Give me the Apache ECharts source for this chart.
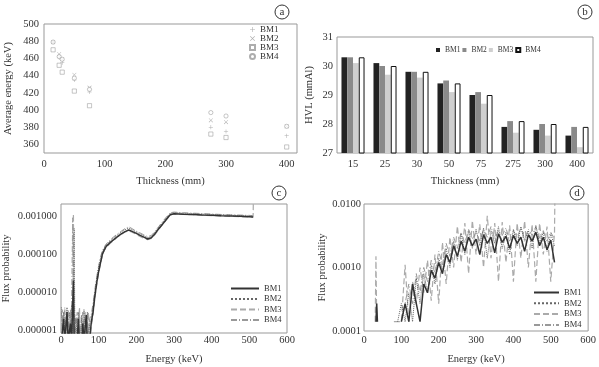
<!DOCTYPE html>
<html>
<head>
<meta charset="utf-8">
<script src="https://cdn.jsdelivr.net/npm/echarts@6/dist/echarts.min.js"></script>
<style>
  html, body { margin: 0; padding: 0; background: #fff; }
  #chart { width: 599px; height: 367px; }
</style>
</head>
<body>
<div id="chart"></div>
<script>
// (a) average energy vs thickness
const thickness = [15, 25, 30, 50, 75, 275, 300, 400]
const avgBM1 = [479, 461, 455, 435, 421, 380, 375, 370]
const avgBM2 = [479, 465, 459, 441, 426, 388, 386, 381]
const avgBM3 = [470, 452, 444, 422, 405, 372, 368, 357]
const avgBM4 = [479, 462, 459, 437, 424, 397, 393, 381]

// (b) HVL per thickness
const hvlCats = ["15", "25", "30", "50", "75", "275", "300", "400"]
const hvlBM1 = [30.3, 30.1, 29.8, 29.4, 29.0, 27.9, 27.8, 27.6]
const hvlBM2 = [30.3, 30.0, 29.8, 29.5, 29.1, 28.1, 28.0, 27.9]
const hvlBM3 = [30.1, 29.7, 29.6, 29.1, 28.7, 27.7, 27.6, 27.2]
const hvlBM4 = [30.3, 30.0, 29.8, 29.4, 29.0, 28.1, 28.0, 27.9]

// (c) flux spectrum
const energyC = [1, 4, 7, 10, 13, 16, 19, 22, 25, 28,
  31, 33, 35, 37,
  40, 43, 46, 49, 52, 55, 58, 61, 64, 67, 70, 73, 76,
  80, 85, 90, 95, 100, 105, 110, 115, 120,
  130, 140, 150, 160, 170, 180, 190, 200, 210, 220, 230, 240, 250, 260, 270, 280, 290, 300,
  325, 350, 375, 400, 425, 450, 475, 500,
  510, 511]
const fluxC_BM1 = [5e-7, 5e-7, 2e-6, 5e-7, 5e-7, 3e-6, 5e-7, 5e-7, 1.5e-6, 5e-7,
  5e-7, 2e-5, 5e-7, 5e-7,
  5e-7, 5e-7, 2e-6, 5e-7, 5e-7, 5e-7, 1.5e-6, 5e-7, 5e-7, 2.5e-6, 5e-7, 5e-7, 5e-7,
  1.5e-6, 3e-6, 8e-6, 1.8e-5, 3.5e-5, 6e-5, 1e-4, 1.3e-4, 1.6e-4,
  2e-4, 2.4e-4, 2.9e-4, 3.4e-4, 3.9e-4, 4.3e-4, 3.9e-4, 3.5e-4, 3.1e-4, 2.8e-4, 2.5e-4, 2.7e-4, 3.5e-4, 4.7e-4, 6.2e-4, 8.2e-4, 1.08e-3, 1.15e-3,
  1.12e-3, 1.1e-3, 1.07e-3, 1.05e-3, 1.02e-3, 1e-3, 9.8e-4, 9.6e-4,
  9.5e-4, null]
const fluxC_BM2 = [4e-6, 1e-6, 3e-6, 5e-7, 2e-6, 4e-6, 5e-7, 3e-6, 1.5e-6, 4.5e-6,
  5e-7, 5e-7, 4.7e-4, 5e-7,
  2e-6, 5e-7, 3e-6, 1e-6, 5e-7, 2.5e-6, 5e-7, 3.5e-6, 1e-6, 5e-7, 3e-6, 5e-7, 1.5e-6,
  2e-6, 4e-6, 1e-5, 2.3e-5, 4.5e-5, 7.5e-5, 1.15e-4, 1.45e-4, 1.75e-4,
  2.2e-4, 2.7e-4, 3.2e-4, 3.8e-4, 4.4e-4, 4.8e-4, 4.3e-4, 3.8e-4, 3.4e-4, 3e-4, 2.7e-4, 2.9e-4, 3.8e-4, 5.1e-4, 6.8e-4, 9e-4, 1.17e-3, 1.22e-3,
  1.18e-3, 1.15e-3, 1.12e-3, 1.1e-3, 1.08e-3, 1.05e-3, 1.03e-3, 1.01e-3,
  1e-3, null]
const fluxC_BM3 = [1e-6, 3.5e-6, 5e-7, 2.5e-6, 5e-7, 3e-6, 1e-6, 5e-7, 3.5e-6, 2e-6,
  5e-7, 1.15e-3, 5e-7, 5e-7,
  5e-7, 3e-6, 1e-6, 4e-6, 5e-7, 2e-6, 5e-7, 1e-6, 3e-6, 5e-7, 1.5e-6, 3e-6, 5e-7,
  1.2e-6, 2.5e-6, 7e-6, 1.6e-5, 3.2e-5, 5.5e-5, 9.5e-5, 1.25e-4, 1.5e-4,
  1.9e-4, 2.3e-4, 2.8e-4, 3.3e-4, 3.8e-4, 4.1e-4, 3.7e-4, 3.3e-4, 2.9e-4, 2.6e-4, 2.4e-4, 2.6e-4, 3.3e-4, 4.5e-4, 6e-4, 8e-4, 1.06e-3, 1.13e-3,
  1.1e-3, 1.08e-3, 1.05e-3, 1.03e-3, 1e-3, 9.8e-4, 9.6e-4, 9.4e-4,
  9.3e-4, 4e-3]
const fluxC_BM4 = [3e-6, 5e-7, 1.5e-6, 4e-6, 1e-6, 5e-7, 3.5e-6, 5e-7, 2e-6, 3e-6,
  9e-4, 5e-7, 5e-7, 5e-7,
  2.5e-6, 5e-7, 1.5e-6, 3e-6, 5e-7, 5e-7, 3e-6, 5e-7, 2e-6, 1e-6, 5e-7, 1e-6, 2e-6,
  2.5e-6, 5e-6, 1.2e-5, 2.6e-5, 5e-5, 8.5e-5, 1.25e-4, 1.55e-4, 1.85e-4,
  2.35e-4, 2.85e-4, 3.4e-4, 4e-4, 4.7e-4, 5.2e-4, 4.6e-4, 4e-4, 3.6e-4, 3.2e-4, 2.9e-4, 3.1e-4, 4e-4, 5.4e-4, 7.2e-4, 9.5e-4, 1.22e-3, 1.27e-3,
  1.22e-3, 1.19e-3, 1.16e-3, 1.13e-3, 1.1e-3, 1.08e-3, 1.06e-3, 1.04e-3,
  1.02e-3, null]

// (d) flux spectrum
const energyD = [30, 32, 34, 36, 38,
  40, 50, 60, 70,
  80, 90, 100, 110, 120, 130, 140, 150, 160, 170, 180, 190, 200, 210, 220, 230, 240, 250, 260, 270, 280, 290,
  300, 310, 320, 330, 340, 350, 360, 370, 380, 390, 400, 410, 420, 430, 440, 450, 460, 470, 480, 490, 500, 510,
  511]
const fluxD_BM1 = [null, 1.4e-4, 2.7e-4, 1.4e-4, null,
  null, null, null, null,
  null, null, 1.4e-4, 2.7e-4, 1.4e-4, 5.5e-4, 2.7e-4, 1.4e-4, 5.5e-4, 4e-4, 9e-4, 6.8e-4, 1.2e-3, 8e-4, 1.6e-3, 1.2e-3, 2.2e-3, 1.5e-3, 2.6e-3, 1.8e-3, 3e-3, 2.2e-3,
  2.8e-3, 1.6e-3, 3.3e-3, 2.4e-3, 3e-3, 1.7e-3, 3.4e-3, 2.5e-3, 3.1e-3, 2e-3, 3.2e-3, 2.4e-3, 3e-3, 1.8e-3, 3.3e-3, 2.6e-3, 3.6e-3, 2.2e-3, 3e-3, 1.9e-3, 2.7e-3, 1.2e-3,
  null]
const fluxD_BM2 = [null, null, null, null, null,
  null, null, null, null,
  null, 1.4e-4, 2.7e-4, 1.4e-4, 4e-4, 1.4e-4, 6.8e-4, 2.7e-4, 8e-4, 4e-4, 1.1e-3, 5.5e-4, 1.4e-3, 9e-4, 2e-3, 1e-3, 2.6e-3, 1.3e-3, 3.4e-3, 1.6e-3, 3.8e-3, 2e-3,
  4e-3, 2.2e-3, 4.2e-3, 1.4e-3, 3.8e-3, 2.4e-3, 4.4e-3, 2e-3, 3.6e-3, 1.6e-3, 4e-3, 2.2e-3, 4.4e-3, 2.6e-3, 3.8e-3, 2e-3, 4.6e-3, 2.4e-3, 3.6e-3, 1.8e-3, 3.4e-3, 2.2e-3,
  null]
const fluxD_BM3 = [1.4e-4, 1.5e-3, 1.4e-4, null, null,
  null, null, null, null,
  1.4e-4, 1.4e-4, 1.4e-4, 1.1e-3, 1.4e-4, 6e-4, 2.7e-4, 1e-3, 4e-4, 1.3e-3, 3e-4, 1.6e-3, 2.7e-4, 2.5e-3, 5.5e-4, 3e-3, 1e-3, 4.5e-3, 1.2e-3, 5e-3, 8e-4, 5.5e-3,
  1.6e-3, 4.8e-3, 1e-3, 6.5e-3, 1.4e-3, 5e-3, 6e-4, 5.2e-3, 1.2e-3, 4.6e-3, 6e-4, 5e-3, 1.4e-3, 5.4e-3, 1e-3, 4.8e-3, 6e-4, 5e-3, 1.6e-3, 4.4e-3, 6e-4, 3.6e-3,
  0.012]
const fluxD_BM4 = [null, null, null, null, null,
  null, null, null, null,
  null, null, 1.4e-4, 2.7e-4, 5.5e-4, 2.7e-4, 8e-4, 4e-4, 1e-3, 6e-4, 1.3e-3, 8e-4, 1.8e-3, 1.1e-3, 2.4e-3, 1.5e-3, 3e-3, 2e-3, 3.6e-3, 2.4e-3, 4e-3, 2.8e-3,
  3.6e-3, 2.6e-3, 4e-3, 3e-3, 4.4e-3, 2.8e-3, 3.8e-3, 3.2e-3, 4.2e-3, 2.6e-3, 3.8e-3, 3e-3, 4.2e-3, 2.8e-3, 4e-3, 3.2e-3, 4.4e-3, 2.9e-3, 3.8e-3, 2.6e-3, 3.6e-3, 2.8e-3,
  null]

const FONT = "Liberation Serif"
const TXT = "#333"
const pair = (xs, ys) => xs.map((x, i) => [x, ys[i] == null ? "-" : ys[i]])
const stripName = (n) => n.slice(2)
const logLabel = (digits) => (v) => {
  const l = Math.log10(v)
  return Math.abs(l - Math.round(l)) < 1e-6 ? v.toFixed(digits) : ""
}

const PLUS = "path://M4.4,0H5.6V4.4H10V5.6H5.6V10H4.4V5.6H0V4.4H4.4Z"
const CROSS = "path://M0.8,0L5,4.2L9.2,0L10,0.8L5.8,5L10,9.2L9.2,10L5,5.8L0.8,10L0,9.2L4.2,5L0,0.8Z"
const MARK = "#999"

const label = (extra) => Object.assign({ color: TXT, fontFamily: FONT, fontSize: 10.5 }, extra)
const nameStyle = { color: TXT, fontFamily: FONT, fontSize: 10.5 }

function valueAxis(grid, extra) {
  return Object.assign({
    gridIndex: grid,
    type: "value",
    axisLine: { show: false },
    axisTick: { show: false },
    splitLine: { show: false },
    nameLocation: "middle",
    nameTextStyle: nameStyle,
  }, extra)
}

const lineStyles = {
  BM1: { color: "#333", width: 1.5, type: "solid" },
  BM2: { color: "#666", width: 1, type: "dotted" },
  BM3: { color: "#aaa", width: 1.2, type: [6, 3] },
  BM4: { color: "#999", width: 1, type: [6, 2, 1, 2] },
}

function fluxSeries(panel, idx, name, xs, ys) {
  return {
    name: panel + " " + name,
    type: "line",
    xAxisIndex: idx,
    yAxisIndex: idx,
    data: pair(xs, ys),
    symbol: "none",
    connectNulls: false,
    itemStyle: { color: lineStyles[name].color },
    lineStyle: lineStyles[name],
  }
}

function scatterSeries(name, symbol, ys, extra) {
  return {
    name: "a " + name,
    type: "scatter",
    xAxisIndex: 0,
    yAxisIndex: 0,
    symbol: symbol,
    symbolSize: 4.2,
    itemStyle: Object.assign({ color: MARK }, extra),
    data: pair(thickness, ys),
  }
}

function barSeries(name, ys, style) {
  return {
    name: "b " + name,
    type: "bar",
    xAxisIndex: 1,
    yAxisIndex: 1,
    data: ys,
    barGap: "0%",
    barCategoryGap: "28%",
    itemStyle: style,
  }
}

function panelTag(letter, cx, cy) {
  return [
    { type: "circle", shape: { cx: cx, cy: cy, r: 7 }, style: { fill: "none", stroke: "#333", lineWidth: 1 } },
    { type: "text", x: cx, y: cy, style: { text: letter, fontFamily: FONT, fontSize: 11, fill: "#333", align: "center", verticalAlign: "middle" } },
  ]
}

const chart = echarts.init(document.getElementById("chart"))

const option = {
  animation: false,
  backgroundColor: "#fff",
  textStyle: { fontFamily: FONT },
  grid: [
    { left: 44, top: 24, width: 253, height: 129, show: true, borderColor: "#999", borderWidth: 1 },
    { left: 337, top: 37, width: 256, height: 116, show: true, borderColor: "#999", borderWidth: 1 },
    { left: 57, top: 204, width: 230, height: 129, show: true, borderColor: "#999", borderWidth: 1 },
    { left: 364, top: 204, width: 225, height: 127, show: true, borderColor: "#999", borderWidth: 1 },
  ],
  legend: [
    {
      data: ["a BM1", "a BM2", "a BM3", "a BM4"],
      orient: "vertical", left: 249, top: 25, padding: 0,
      itemWidth: 5, itemHeight: 5, itemGap: 0,
      formatter: stripName,
      textStyle: { color: TXT, fontFamily: FONT, fontSize: 9 },
    },
    {
      data: ["b BM1", "b BM2", "b BM3", "b BM4"],
      left: 436, top: 46, padding: 0, icon: "rect",
      itemWidth: 4, itemHeight: 4, itemGap: 2,
      formatter: stripName,
      textStyle: { color: TXT, fontFamily: FONT, fontSize: 7.5 },
    },
    {
      data: ["c BM1", "c BM2", "c BM3", "c BM4"],
      orient: "vertical", left: 230, top: 284, padding: 0,
      itemWidth: 28, itemHeight: 8, itemGap: 1.5,
      itemStyle: { opacity: 0 },
      formatter: stripName,
      textStyle: { color: TXT, fontFamily: FONT, fontSize: 8.5 },
    },
    {
      data: ["d BM1", "d BM2", "d BM3", "d BM4"],
      orient: "vertical", left: 533, top: 288, padding: 0,
      itemWidth: 25, itemHeight: 8, itemGap: 1.8,
      itemStyle: { opacity: 0 },
      formatter: stripName,
      textStyle: { color: TXT, fontFamily: FONT, fontSize: 8.5 },
    },
  ],
  xAxis: [
    valueAxis(0, {
      min: 0, max: 417, interval: 100,
      name: "Thickness (mm)", nameGap: 23,
      axisLabel: label({ margin: 6, formatter: (v) => (v % 100 === 0 ? v : "") }),
    }),
    {
      gridIndex: 1, type: "category", data: hvlCats,
      axisLine: { show: false }, axisTick: { show: false },
      name: "Thickness (mm)", nameLocation: "middle", nameGap: 23, nameTextStyle: nameStyle,
      axisLabel: label({ margin: 6 }),
    },
    valueAxis(2, {
      min: 0, max: 600, interval: 100,
      name: "Energy (keV)", nameGap: 21,
      axisLabel: label({ margin: 2 }),
    }),
    valueAxis(3, {
      min: 0, max: 600, interval: 100,
      name: "Energy (keV)", nameGap: 23,
      axisLabel: label({ margin: 4 }),
    }),
  ],
  yAxis: [
    valueAxis(0, {
      min: 350, max: 500, interval: 10,
      name: "Average energy (keV)", nameGap: 30,
      axisLabel: label({ margin: 5, formatter: (v) => (v % 20 === 0 ? v : "") }),
    }),
    valueAxis(1, {
      min: 27, max: 31, interval: 1,
      name: "HVL (mmAl)", nameGap: 22,
      axisLabel: label({ margin: 4 }),
    }),
    valueAxis(2, {
      type: "log", logBase: 10, min: 8.5e-7, max: 2.07e-3, splitNumber: 3,
      name: "Flux probability", nameGap: 49,
      axisLabel: label({ margin: 4, formatter: logLabel(6) }),
    }),
    valueAxis(3, {
      type: "log", logBase: 10, min: 1e-4, max: 1e-2, splitNumber: 2,
      name: "Flux probability", nameGap: 36,
      axisLabel: label({ margin: 3, formatter: logLabel(4) }),
    }),
  ],
  series: [
    scatterSeries("BM1", PLUS, avgBM1),
    scatterSeries("BM2", CROSS, avgBM2),
    scatterSeries("BM3", "rect", avgBM3, { color: "#fff", borderColor: MARK, borderWidth: 0.7 }),
    scatterSeries("BM4", "circle", avgBM4, { color: "#fff", borderColor: MARK, borderWidth: 0.7 }),

    barSeries("BM1", hvlBM1, { color: "#222" }),
    barSeries("BM2", hvlBM2, { color: "#8a8a8a" }),
    barSeries("BM3", hvlBM3, { color: "#cfcfcf" }),
    barSeries("BM4", hvlBM4, { color: "#fff", borderColor: "#111", borderWidth: 1 }),

    fluxSeries("c", 2, "BM4", energyC, fluxC_BM4),
    fluxSeries("c", 2, "BM3", energyC, fluxC_BM3),
    fluxSeries("c", 2, "BM2", energyC, fluxC_BM2),
    fluxSeries("c", 2, "BM1", energyC, fluxC_BM1),

    fluxSeries("d", 3, "BM4", energyD, fluxD_BM4),
    fluxSeries("d", 3, "BM3", energyD, fluxD_BM3),
    fluxSeries("d", 3, "BM2", energyD, fluxD_BM2),
    fluxSeries("d", 3, "BM1", energyD, fluxD_BM1),
  ],
  graphic: [].concat(
    panelTag("a", 282, 12),
    panelTag("b", 585, 12),
    panelTag("c", 279, 193),
    panelTag("d", 577, 193)
  ),
}

chart.setOption(option)
</script>
</body>
</html>
